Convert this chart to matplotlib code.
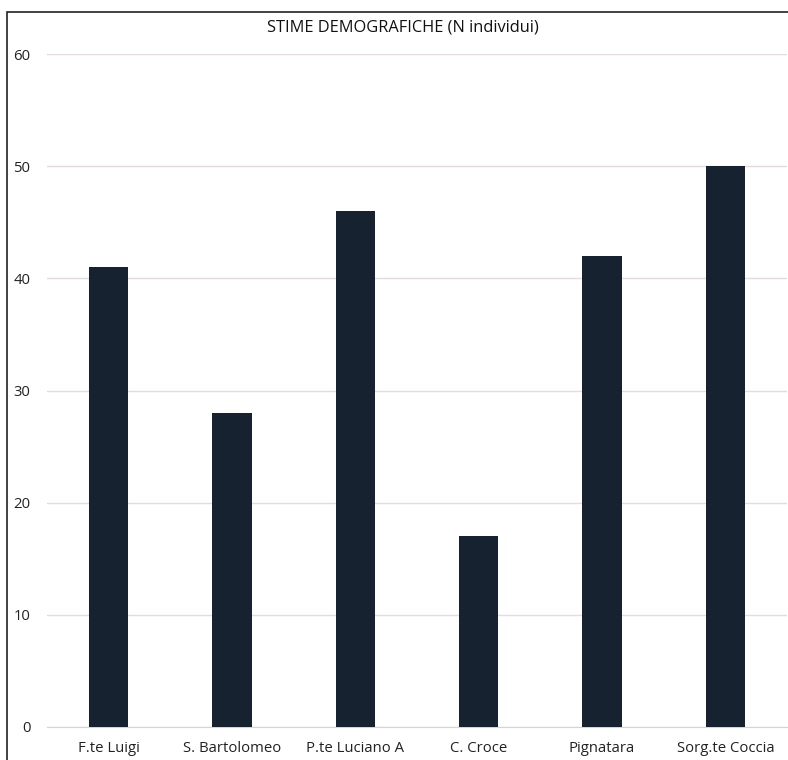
import matplotlib.pyplot as plt
from matplotlib.patches import Rectangle

# data
siti = ['F.te Luigi', 'S. Bartolomeo', 'P.te Luciano A', 'C. Croce', 'Pignatara', 'Sorg.te Coccia']
individui = [41, 28, 46, 17, 42, 50]
yticks = [0, 10, 20, 30, 40, 50, 60]

W, H = 788, 760
fig = plt.figure(figsize=(W / 100, H / 100), dpi=100)
fig.patch.set_facecolor('white')
plt.rcParams['font.family'] = ['Open Sans', 'DejaVu Sans']

# axes placed in pixel terms: x 47..787, y 54..727
ax = fig.add_axes([47 / W, 1 - 727 / H, 740 / W, (727 - 54) / H])
ax.bar(range(len(siti)), individui, width=0.32, color='#172231', zorder=3)
ax.set_xlim(-0.5, len(siti) - 0.5)
ax.set_ylim(0, 60)
ax.set_yticks(yticks)
ax.set_xticks(range(len(siti)))
ax.set_xticklabels(siti, fontsize=10.7, color='#222222')
ax.tick_params(axis='y', labelsize=10.7, labelcolor='#222222', length=0, pad=12)
ax.tick_params(axis='x', length=0, pad=10)
ax.grid(axis='y', color='#e3dcdc', lw=1, zorder=0)
for s in ['top', 'right', 'left']:
    ax.spines[s].set_visible(False)
ax.spines['bottom'].set_color('#d9d4d4')

fig.text(403 / W, 1 - 28 / H, 'STIME DEMOGRAFICHE (N individui)',
         ha='center', va='center', fontsize=11.8, color='#111111')

# outer chart frame (runs off the right and bottom edge)
fig.patches.append(Rectangle((7 / W, -0.05), 1.1, 1 - 12 / H + 0.05,
                             transform=fig.transFigure, fill=False,
                             edgecolor='#222222', lw=1.2))

fig.savefig('out.png', dpi=100, facecolor='white')
